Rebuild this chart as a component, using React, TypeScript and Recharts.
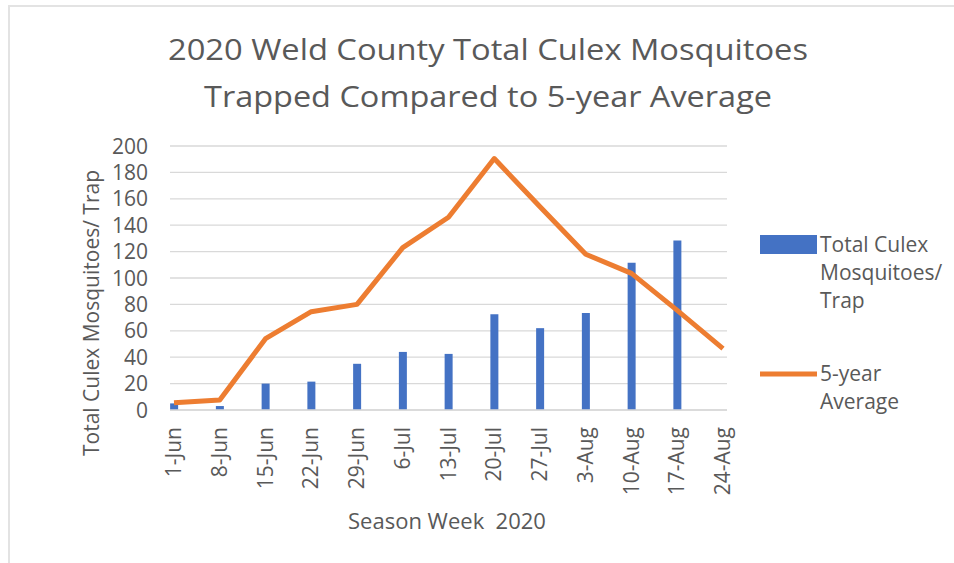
import React from 'react';
import { ComposedChart, Bar, Line, XAxis, YAxis, CartesianGrid } from 'recharts';

const categories = ['1-Jun', '8-Jun', '15-Jun', '22-Jun', '29-Jun', '6-Jul', '13-Jul', '20-Jul', '27-Jul', '3-Aug', '10-Aug', '17-Aug', '24-Aug'];
const trapValues: (number | null)[] = [5, 3, 20, 21.5, 35, 44, 42.5, 72.5, 62, 73.5, 111.5, 128.5, null];
const avgValues = [5.5, 7.5, 54, 74.5, 80, 123, 146, 190.5, 154, 118, 103.5, 75.5, 46.5];
const yTicks = [0, 20, 40, 60, 80, 100, 120, 140, 160, 180, 200];

const titleLines = ['2020 Weld County Total Culex Mosquitoes', 'Trapped Compared to 5-year Average'];
const xAxisTitle = 'Season Week  2020';
const yAxisTitle = 'Total Culex Mosquitoes/ Trap';
const trapLegend = ['Total Culex', 'Mosquitoes/', 'Trap'];
const avgLegend = ['5-year', 'Average'];

const FONT = "'Open Sans', sans-serif";
const TEXT = '#595959';
const BLUE = '#4472C4';
const ORANGE = '#ED7D31';

const data = categories.map((c, i) => ({ i, name: c, trap: trapValues[i], avg: avgValues[i] }));

const XTick = (props: any) => {
  const { x, payload } = props;
  return (
    <text
      transform={`translate(${x + 7},${427}) rotate(-90)`}
      textAnchor="end"
      fill={TEXT}
      fontSize={21}
      fontFamily={FONT}
    >
      {categories[payload.value]}
    </text>
  );
};

const YTick = (props: any) => {
  const { y, payload } = props;
  return (
    <text x={148} y={y + 7.5} textAnchor="end" fill={TEXT} fontSize={21} fontFamily={FONT}>
      {payload.value}
    </text>
  );
};

export default function App() {
  return (
    <div style={{ position: 'absolute', left: 0, top: 0, width: 954, height: 563, background: '#fff', overflow: 'hidden' }}>
      <div style={{ position: 'absolute', left: 8, top: 5, right: 0, height: 2, background: '#e3e3e3' }} />
      <div style={{ position: 'absolute', left: 8, top: 5, bottom: 0, width: 2, background: '#e3e3e3' }} />
      <svg width={954} height={563} style={{ position: 'absolute', left: 0, top: 0 }}>
        <text x={488} y={60} textAnchor="middle" fill={TEXT} fontSize={30} fontFamily={FONT} textLength={640} lengthAdjust="spacingAndGlyphs">
          {titleLines[0]}
        </text>
        <text x={488} y={107} textAnchor="middle" fill={TEXT} fontSize={30} fontFamily={FONT} textLength={568} lengthAdjust="spacingAndGlyphs">
          {titleLines[1]}
        </text>
        <text x={447} y={529} textAnchor="middle" fill={TEXT} fontSize={22} fontFamily={FONT} style={{ whiteSpace: 'pre' }}>
          {xAxisTitle}
        </text>
        <text transform="translate(99,313) rotate(-90)" textAnchor="middle" fill={TEXT} fontSize={21} fontFamily={FONT}>
          {yAxisTitle}
        </text>
        <g transform="translate(760,230)">
          <rect x={0} y={5} width={57} height={19} fill={BLUE} />
          {trapLegend.map((t, k) => (
            <text key={t} x={60} y={22 + k * 28} fill={TEXT} fontSize={21} fontFamily={FONT}>
              {t}
            </text>
          ))}
          <line x1={0} x2={57} y1={144} y2={144} stroke={ORANGE} strokeWidth={5} />
          {avgLegend.map((t, k) => (
            <text key={t} x={60} y={151 + k * 28} fill={TEXT} fontSize={21} fontFamily={FONT}>
              {t}
            </text>
          ))}
        </g>
      </svg>
      <div style={{ position: 'absolute', left: 0, top: 0 }}>
        <ComposedChart width={954} height={563} data={data} margin={{ top: 146, right: 227, left: 0, bottom: 0 }}>
          <CartesianGrid vertical={false} stroke="#d9d9d9" strokeWidth={1.3} />
          <XAxis
            type="number"
            dataKey="i"
            domain={[0, 12]}
            ticks={categories.map((_, i) => i)}
            interval={0}
            padding={{ left: 4, right: 4 }}
            axisLine={{ stroke: '#d9d9d9', strokeWidth: 1.3 }}
            tickLine={false}
            tick={<XTick />}
            height={153}
          />
          <YAxis
            type="number"
            domain={[0, 200]}
            ticks={yTicks}
            interval={0}
            axisLine={false}
            tickLine={false}
            tick={<YTick />}
            width={170}
          />
          <Bar dataKey="trap" name="Total Culex Mosquitoes/ Trap" fill={BLUE} barSize={8} isAnimationActive={false} />
          <Line
            dataKey="avg"
            name="5-year Average"
            type="linear"
            stroke={ORANGE}
            strokeWidth={5}
            strokeLinejoin="round"
            dot={false}
            activeDot={false}
            isAnimationActive={false}
          />
        </ComposedChart>
      </div>
    </div>
  );
}
